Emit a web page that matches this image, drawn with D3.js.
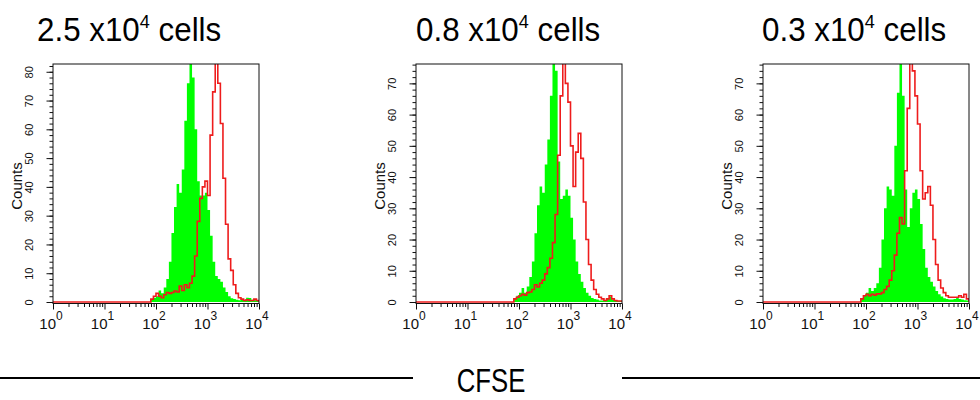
<!DOCTYPE html>
<html>
<head>
<meta charset="utf-8">
<script src="https://cdn.jsdelivr.net/npm/d3@7"></script>
<style>
  body { margin: 0; background: #fff; }
  svg { display: block; font-family: "Liberation Sans", Arial, Helvetica, sans-serif; }
</style>
</head>
<body>
<svg id="chart" width="980" height="400"></svg>
<script>
// Histogram channels: left edge of each bin, as log10 of CFSE intensity
const channels = [0, 1.85, 1.90, 1.95, 2.00, 2.05, 2.10, 2.15, 2.20, 2.25, 2.30, 2.35, 2.40, 2.45,
  2.50, 2.55, 2.60, 2.65, 2.70, 2.75, 2.80, 2.85, 2.90, 2.95, 3.00, 3.05, 3.10, 3.15, 3.20,
  3.25, 3.30, 3.35, 3.40, 3.45, 3.50, 3.55, 3.60, 3.65, 3.70, 3.75, 3.80, 3.85, 3.90, 3.95, 4.00];

// Filled (green) histograms
const green25 = [0, 0, 1, 1.5, 2, 4, 3, 5, 8, 14, 24, 33, 41, 38,
  46, 63, 76, 84, 78, 60, 42, 37, 37, 38, 32, 23, 14, 9, 8,
  7, 5, 3.5, 2, 1.3, 1, 0.8, 0.6, 1, 0.8, 1.5, 1.4, 0.8, 0.6, 0.5, 0];
const green08 = [0, 0, 1, 2, 3, 4.5, 3, 5, 8, 13, 22, 31, 37, 35,
  44, 52, 66, 78, 74, 45, 33, 34, 36, 34, 27, 20, 13, 9, 6.5,
  4.5, 3, 2, 1.3, 1, 0.8, 0.5, 0.5, 0.6, 1, 1.8, 0.8, 0.5, 0.3, 0.3, 0];
const green03 = [0, 0, 1, 2, 3, 4.5, 3.5, 4.5, 6, 11, 20, 30, 37, 36,
  34, 50, 67, 78, 66, 36, 24, 30, 35, 36, 33, 25, 17, 11, 8,
  6.5, 5, 3.5, 2.5, 1.8, 1.2, 1, 0.8, 0.8, 1, 1.5, 1, 0.8, 0.6, 0.5, 0];

// Outline (red) histograms
const red25 = [0, 0, 1, 2, 3, 2, 1.5, 2.5, 3.3, 3, 3.3, 3.8, 3.5, 5.5,
  4, 6, 5, 6.5, 9, 16, 28, 36, 40, 42, 37, 58, 73, 84, 76,
  62, 43, 27, 15, 11, 6, 3, 1.5, 1, 0.5, 0.8, 0.5, 0.5, 1, 0.5, 0];
const red08 = [0, 0, 1, 1.5, 2, 2.5, 2.2, 3, 3.2, 4, 5.5, 4.8, 6, 7,
  9, 11, 14, 19, 28, 47, 66, 78, 70, 64, 50, 37, 48, 54, 46,
  32, 20, 12, 7, 4, 2.5, 1.5, 1, 0.5, 1, 2, 1, 0.5, 0.3, 0.3, 0];
const red03 = [0, 0, 1, 2, 2.5, 2, 2.5, 2.2, 2.6, 2.6, 3, 4, 5, 7,
  10, 15, 22, 27, 25, 42, 62, 78, 74, 66, 57, 42, 33, 35, 37,
  31, 20, 12, 7, 4.5, 3, 2, 1.5, 1.5, 1.5, 1.5, 2, 1.5, 2.5, 1, 0];

const cellNumbers = ["2.5", "0.8", "0.3"];
const yTickTop = [80, 70, 70];
const yDomainTop = [82.7, 76.2, 76.2];
const decadeExponents = [0, 1, 2, 3, 4];
const axisTitle = "Counts";
const bottomLabel = "CFSE";

const greens = [green25, green08, green03];
const reds = [red25, red08, red03];

// Panel frames
const frames = [
  { left: 53,  right: 259, titleX: 37 },
  { left: 416, right: 622, titleX: 416 },
  { left: 763, right: 969, titleX: 762 }
];
const frameTop = 64, zeroY = 302, frameBottom = 303.5;

const svg = d3.select("#chart");

frames.forEach((f, i) => {
  const x = d3.scaleLog().domain([1, 1e4]).range([f.left, f.right]);
  const y = d3.scaleLinear().domain([0, yDomainTop[i]]).range([zeroY, frameTop]);
  const g = svg.append("g");

  const bins = channels.map((c, k) => ({ c, g: greens[i][k], r: reds[i][k] }));

  const clipId = "clip" + i;
  svg.append("clipPath").attr("id", clipId)
    .append("rect")
    .attr("x", f.left).attr("y", frameTop)
    .attr("width", f.right - f.left).attr("height", frameBottom - frameTop);

  const plot = g.append("g").attr("clip-path", `url(#${clipId})`);

  const area = d3.area()
    .x(d => x(Math.pow(10, d.c)))
    .y0(y(0))
    .y1(d => y(d.g))
    .curve(d3.curveStepAfter);

  plot.append("path")
    .datum(bins)
    .attr("d", area)
    .attr("fill", "#00ff00")
    .attr("stroke", "none");

  const line = d3.line()
    .x(d => x(Math.pow(10, d.c)))
    .y(d => y(d.r))
    .curve(d3.curveStepAfter);

  plot.append("path")
    .datum(bins)
    .attr("d", line)
    .attr("fill", "none")
    .attr("stroke", "#ee1c1c")
    .attr("stroke-width", 1.6);

  // Frame
  g.append("rect")
    .attr("x", f.left).attr("y", frameTop)
    .attr("width", f.right - f.left).attr("height", frameBottom - frameTop)
    .attr("fill", "none").attr("stroke", "#111").attr("stroke-width", 1);

  // Y axis: minor ticks every 2, major every 10
  const yMinor = d3.axisLeft(y).tickValues(d3.range(0, yDomainTop[i], 2)).tickSize(3.5).tickFormat("");
  const yMajor = d3.axisLeft(y).tickValues(d3.range(0, yTickTop[i] + 1, 10)).tickSize(6.5);
  const ga = g.append("g").attr("transform", `translate(${f.left},0)`).call(yMinor);
  ga.select(".domain").remove();
  ga.selectAll("line").attr("stroke", "#111");
  const gb = g.append("g").attr("transform", `translate(${f.left},0)`).call(yMajor);
  gb.select(".domain").remove();
  gb.selectAll("line").attr("stroke", "#111");
  gb.selectAll("text")
    .attr("x", null).attr("dy", null)
    .attr("text-anchor", "middle")
    .attr("transform", "translate(-20.5,0) rotate(-90)")
    .attr("font-size", 11)
    .attr("fill", "#111");

  g.append("text")
    .attr("transform", `translate(${f.left - 31},${(frameTop + zeroY) / 2 + 3}) rotate(-90)`)
    .attr("text-anchor", "middle")
    .attr("font-size", 15)
    .attr("fill", "#111")
    .text(axisTitle);

  // X axis: decade ticks and log minor ticks
  const minorVals = [];
  decadeExponents.slice(0, -1).forEach(e => {
    for (let m = 2; m <= 9; m++) minorVals.push(m * Math.pow(10, e));
  });
  const xMinor = d3.axisBottom(x).tickValues(minorVals).tickSize(3.5).tickFormat("");
  const xMajor = d3.axisBottom(x).tickValues(decadeExponents.map(e => Math.pow(10, e))).tickSize(6).tickFormat("");
  [xMinor, xMajor].forEach(ax => {
    const gx = g.append("g").attr("transform", `translate(0,${frameBottom})`).call(ax);
    gx.select(".domain").remove();
    gx.selectAll("line").attr("stroke", "#111");
  });

  decadeExponents.forEach(e => {
    const t = g.append("text")
      .attr("x", x(Math.pow(10, e)) - 2)
      .attr("y", 329)
      .attr("text-anchor", "middle")
      .attr("font-size", 15)
      .attr("fill", "#111");
    t.append("tspan").text("10");
    t.append("tspan").attr("dy", -9).attr("font-size", 12).text(e);
  });

  // Panel title (narrow lettering)
  const title = svg.append("text")
    .attr("transform", `translate(${f.titleX},41) scale(0.95,1)`)
    .attr("font-size", 33)
    .attr("fill", "#000");
  title.append("tspan").text(cellNumbers[i] + " x10");
  title.append("tspan").attr("dy", -13).attr("font-size", 19).text("4");
  title.append("tspan").attr("dy", 13).text(" cells");
});

// Bottom axis label with rules on both sides
svg.append("line").attr("x1", 0).attr("x2", 413).attr("y1", 378).attr("y2", 378)
  .attr("stroke", "#000").attr("stroke-width", 2);
svg.append("line").attr("x1", 622).attr("x2", 980).attr("y1", 378).attr("y2", 378)
  .attr("stroke", "#000").attr("stroke-width", 2);
svg.append("text")
  .attr("transform", "translate(491,392) scale(0.78,1)")
  .attr("text-anchor", "middle")
  .attr("font-size", 33)
  .attr("fill", "#000")
  .text(bottomLabel);
</script>
</body>
</html>
